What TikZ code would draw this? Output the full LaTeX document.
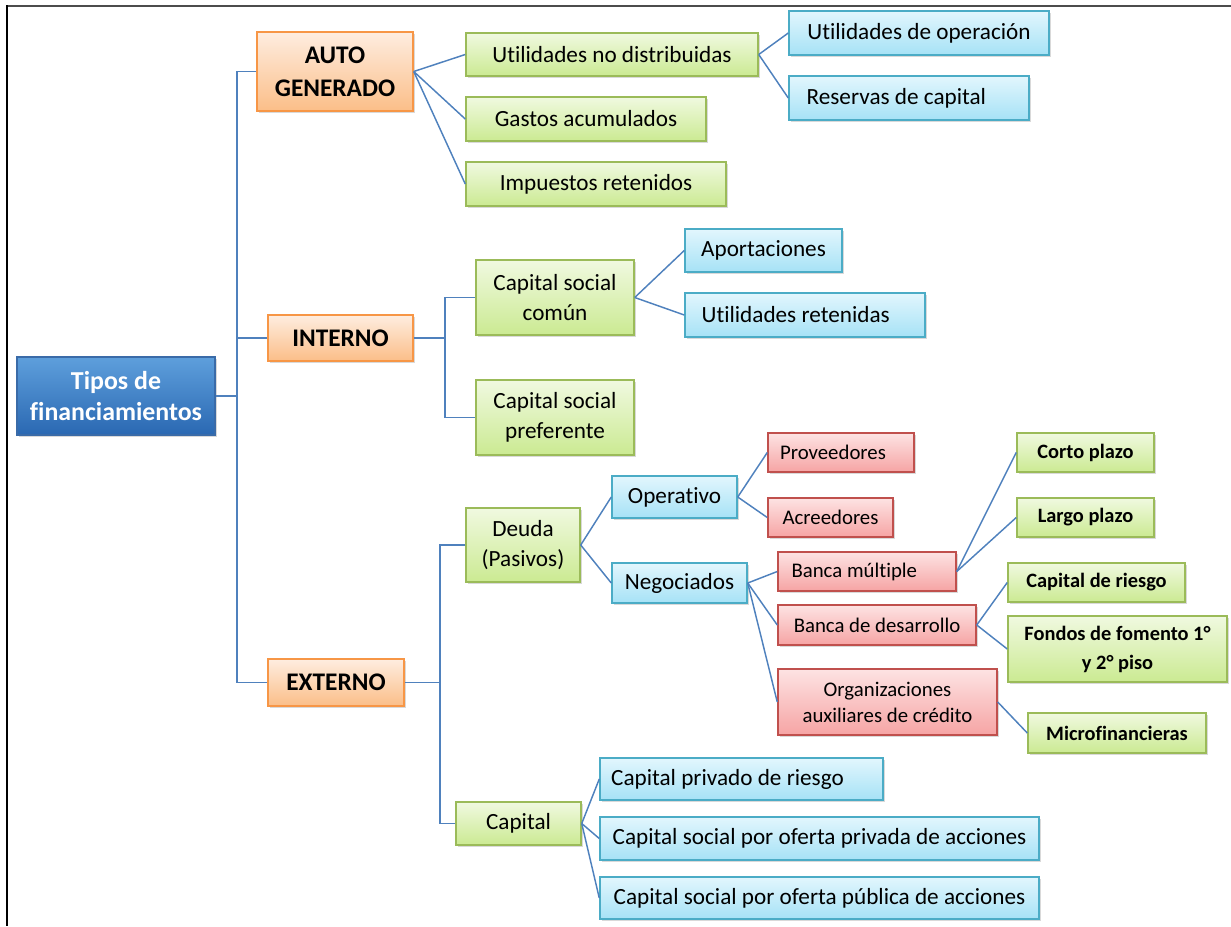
\documentclass[tikz,border=0pt]{standalone}
\usepackage{fontspec}
\setmainfont{Carlito}[RawFeature=-liga]
\usetikzlibrary{shadows}
\definecolor{connc}{HTML}{4F81BD}
\definecolor{gtop}{HTML}{F0F9E0}
\definecolor{gbot}{HTML}{CBEA92}
\definecolor{gbrd}{HTML}{9BBB59}
\definecolor{btop}{HTML}{E2F6FD}
\definecolor{bbot}{HTML}{A6E2F6}
\definecolor{bbrd}{HTML}{4BACC6}
\definecolor{rtop}{HTML}{FDE3E3}
\definecolor{rbot}{HTML}{F6A4A4}
\definecolor{rbrd}{HTML}{C0504D}
\definecolor{otop}{HTML}{FEEDE0}
\definecolor{obot}{HTML}{FBBE88}
\definecolor{obrd}{HTML}{F79646}
\definecolor{roottop}{HTML}{5E9FDC}
\definecolor{rootbot}{HTML}{2A68B2}
\definecolor{rootbrd}{HTML}{3A6BA8}
\tikzset{
  base/.style={draw, line width=1.1pt, align=center, inner sep=2pt, text=black,
    font=\fontsize{17.4}{22.5}\selectfont,
    drop shadow={shadow xshift=1.6pt, shadow yshift=-1.6pt, opacity=0.3}},
  gbox/.style={base, draw=gbrd, top color=gtop, bottom color=gbot},
  gbold/.style={gbox, font=\fontsize{15.3}{21.75}\selectfont\bfseries},
  bbox/.style={base, draw=bbrd, top color=btop, bottom color=bbot},
  rbox/.style={base, draw=rbrd, top color=rtop, bottom color=rbot, font=\fontsize{15.6}{19.5}\selectfont},
  obox/.style={base, draw=obrd, top color=otop, bottom color=obot, font=\fontsize{19}{24.5}\selectfont\bfseries},
  rootbox/.style={base, draw=rootbrd, top color=roottop, bottom color=rootbot, text=white, font=\fontsize{19.4}{23}\selectfont\bfseries},
  conn/.style={draw=connc, line width=1.1pt},
}
\newcommand\placebox[7]{\node[#1, minimum width={(#5-#3)*0.75pt}, minimum height={(#6-#4)*0.75pt}] (#2) at ({(#3+#5)/2},{(#4+#6)/2}) {#7};}
\begin{document}
\begin{tikzpicture}[x=0.75pt,y=-0.75pt]
\useasboundingbox (0,0) rectangle (1231,926);
% frame
\draw[line width=1.6pt, black!70] (7,6) -- (1231,6);
\draw[line width=1.6pt, black] (7,5.2) -- (7,926);
% nodes
\placebox{rootbox}{root}{17}{357}{215}{435}{Tipos de\\financiamientos}
\placebox{obox}{auto}{257}{32}{413}{111}{AUTO\\GENERADO}
\placebox{obox}{interno}{268}{315}{413}{361}{INTERNO}
\placebox{obox}{externo}{268}{659}{404}{706}{EXTERNO}
\placebox{gbox}{und}{466}{33}{758}{76}{Utilidades no distribuidas}
\placebox{gbox}{gas}{466}{97}{706}{141}{Gastos acumulados}
\placebox{gbox}{imp}{466}{162}{726}{206}{Impuestos retenidos}
\placebox{bbox}{uop}{789}{11}{1049}{55}{Utilidades de operación}
\placebox{bbox}{res}{789}{76}{1029}{120}{Reservas de capital\hspace*{19pt}}
\placebox{gbox}{csc}{476}{260}{634}{335}{Capital social\\común}
\placebox{gbox}{csp}{476}{380}{634}{455}{Capital social\\preferente}
\placebox{bbox}{apo}{685}{229}{842}{272}{Aportaciones}
\placebox{bbox}{ure}{685}{293}{925}{337}{Utilidades retenidas\hspace*{14pt}}
\placebox{gbox}{deu}{466}{508}{580}{582}{Deuda\\(Pasivos)}
\placebox{gbox}{cap}{456}{802}{581}{845}{Capital}
\placebox{bbox}{ope}{612}{476}{737}{518}{Operativo}
\placebox{bbox}{neg}{612}{563}{747}{603}{Negociados}
\placebox{rbox}{pro}{768}{433}{914}{472}{Proveedores\hspace*{12pt}}
\placebox{rbox}{acr}{768}{498}{893}{537}{Acreedores}
\placebox{rbox}{bmu}{778}{552}{956}{591}{Banca múltiple\hspace*{19pt}}
\placebox{rbox}{bde}{778}{605}{976}{645}{Banca de desarrollo}
\placebox{rbox}{org}{778}{669}{997}{735}{Organizaciones\\auxiliares de crédito}
\placebox{gbold}{cor}{1017}{433}{1154}{472}{Corto plazo}
\placebox{gbold}{lar}{1017}{498}{1154}{537}{Largo plazo}
\placebox{gbold}{cri}{1008}{563}{1185}{602}{Capital de riesgo}
\placebox{gbold}{fon}{1008}{616}{1227}{682}{Fondos de fomento 1°\\y 2° piso}
\placebox{gbold}{mic}{1028}{713}{1206}{753}{Microfinancieras}
\placebox{bbox}{cpr}{600}{758}{883}{800}{Capital privado de riesgo\hspace*{21pt}}
\placebox{bbox}{cpv}{600}{817}{1039}{860}{Capital social por oferta privada de acciones}
\placebox{bbox}{cpu}{600}{877}{1039}{919}{Capital social por oferta pública de acciones}
% elbow connectors
\coordinate (spine) at (237,390);
\coordinate (inj) at (445,340);
\coordinate (exj) at (440,687);
\draw[conn] (root.east) -- (root.east -| spine);
\draw[conn] (auto.west) -| (spine) |- (externo.west);
\draw[conn] (interno.west) -- (interno.west -| spine);
\draw[conn] (interno.east) -- (interno.east -| inj);
\draw[conn] (csc.west) -| (inj) |- (csp.west);
\draw[conn] (externo.east) -- (externo.east -| exj);
\draw[conn] (deu.west) -| (exj) |- (cap.west);
% fan connectors
\foreach \c in {und,gas,imp} \draw[conn] (auto.east) -- (\c.west);
\foreach \c in {uop,res} \draw[conn] (und.east) -- (\c.west);
\foreach \c in {apo,ure} \draw[conn] (csc.east) -- (\c.west);
\foreach \c in {ope,neg} \draw[conn] (deu.east) -- (\c.west);
\foreach \c in {pro,acr} \draw[conn] (ope.east) -- (\c.west);
\foreach \c in {bmu,bde,org} \draw[conn] (neg.east) -- (\c.west);
\foreach \c in {cor,lar} \draw[conn] (bmu.east) -- (\c.west);
\foreach \c in {cri,fon} \draw[conn] (bde.east) -- (\c.west);
\draw[conn] (org.east) -- (mic.west);
\foreach \c in {cpr,cpv,cpu} \draw[conn] (cap.east) -- (\c.west);
\end{tikzpicture}
\end{document}
